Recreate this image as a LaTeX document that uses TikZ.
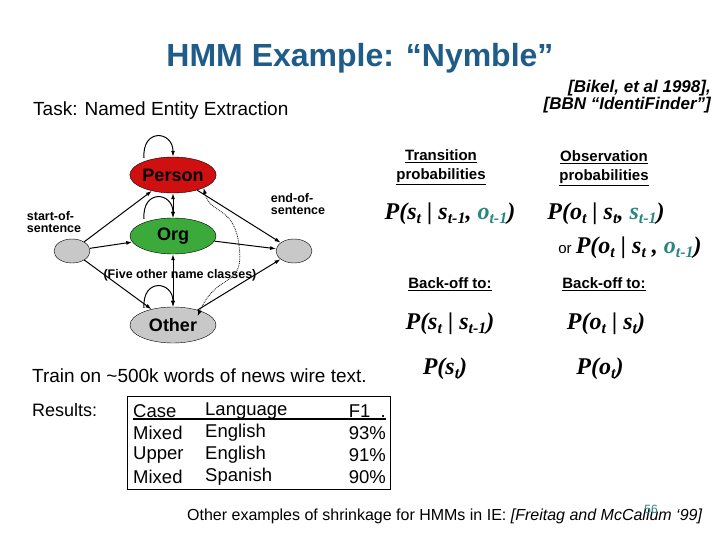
\documentclass[tikz,border=0pt]{standalone}
\usepackage{fontspec}
\setmainfont{Liberation Sans}
\newfontfamily\serifb{Liberation Serif}
\usetikzlibrary{shapes.geometric,arrows.meta}
\definecolor{titleblue}{HTML}{1F5C8A}
\definecolor{tealc}{HTML}{2A8585}
\definecolor{pred}{HTML}{D01010}
\definecolor{ogreen}{HTML}{3BAA3B}
\definecolor{sgray}{HTML}{C8C8C8}
\newcommand{\fs}[1]{\fontsize{#1}{#1}\selectfont}
\newcommand{\tl}[1]{\textcolor{tealc}{#1}}
\newcommand{\sbx}[1]{\raisebox{-4pt}{\fs{16}#1}}
\begin{document}
\begin{tikzpicture}[x=1pt,y=-1pt,
  st/.style={ellipse,draw=black,thin,minimum width=86pt,minimum height=36pt,inner sep=0pt,font=\fs{18}\bfseries},
  sm/.style={ellipse,draw=black,thin,fill=sgray,minimum width=36pt,minimum height=24pt,inner sep=0pt},
  arr/.style={-{Latex[length=6pt,width=4pt]},line width=1pt},
  lbl/.style={font=\fs{12.5}\bfseries,align=left,inner sep=0pt},
  frm/.style={font=\serifb\fs{24}\bfseries\itshape,inner sep=0pt},
  hd/.style={font={\fontsize{15}{19}\selectfont\bfseries},align=center,inner sep=0pt}]
\useasboundingbox (0,0) rectangle (720,540);
\fill[white] (0,0) rectangle (720,540);
\node[font=\fs{32}\bfseries,text=titleblue] (title) at (360,58) {HMM Example: “Nymble”};
\node[font=\fs{17}\bfseries\itshape,align=right,anchor=east,inner sep=0pt] (cite) at (711,97) {[Bikel, et al 1998],\\\relax [BBN “IdentiFinder”]};
\node[font=\fs{19},anchor=west,inner sep=0pt] (task) at (33,111) {Task: Named Entity Extraction};
% graph
\node[st,fill=pred] (per) at (173,175) {Person};
\node[st,fill=ogreen] (org) at (173,236) {Org};
\node[st,fill=sgray] (oth) at (173,325) {Other};
\node[sm] (s) at (72,251) {};
\node[sm] (e) at (294,251) {};
\node[lbl] (sl) at (54,222) {start-of-\\sentence};
\node[lbl] (el) at (298,204) {end-of-\\sentence};
\node[font=\fs{12.5}\bfseries,inner sep=0pt] (five) at (180,275) {(Five other name classes)};
\draw[arr] (s) -- (per);
\draw[arr] (s) -- (org);
\draw[arr] (s) -- (oth);
\draw[arr] (per) -- (e);
\draw[arr] (org) -- (e);
\draw[arr] (oth) -- (e);
\draw[{Latex[length=6pt,width=4pt]}-{Latex[length=6pt,width=4pt]},line width=1pt] (per) -- (org);
\draw[{Latex[length=6pt,width=4pt]}-{Latex[length=6pt,width=4pt]},line width=1pt] (org) -- (oth);
\foreach \n in {per,org,oth}{
  \draw[arr] (\n.north) ++(-29,1) coordinate (a\n) .. controls +(-2,-30) and +(0,-26) .. (\n.north);
}
\draw[{Latex[length=6pt,width=4pt]}-{Latex[length=6pt,width=4pt]},densely dotted,line width=0.8pt] (oth.north east) ++(-6,4) coordinate (d1) .. controls (218,270) and (245,290) .. (239,245) .. controls (234,205) and (210,215) .. (per.south east) ;
% right side
\node[hd] (th) at (441,167) {\underline{Transition}\\\underline{probabilities}};
\node[hd] (oh) at (604,168) {\underline{Observation}\\\underline{probabilities}};
\node[frm] (f1) at (450,214) {P(s\sbx{t} | s\sbx{t-1}, \tl{o\sbx{t-1}})};
\node[frm] (f2) at (606,214) {P(o\sbx{t} | s\sbx{t}, \tl{s\sbx{t-1}})};
\node[frm] (f3) at (630,248) {{\fontspec{Liberation Sans}\fs{15}\upshape\mdseries or }P(o\sbx{t} | s\sbx{t} , \tl{o\sbx{t-1}})};
\node[hd] (b1) at (450,284) {\underline{Back-off to:}};
\node[hd] (b2) at (604,284) {\underline{Back-off to:}};
\node[frm] (f4) at (450,324) {P(s\sbx{t} | s\sbx{t-1})};
\node[frm] (f5) at (606,324) {P(o\sbx{t} | s\sbx{t})};
\node[frm] (f6) at (445,369) {P(s\sbx{t})};
\node[frm] (f7) at (600,369) {P(o\sbx{t})};
% bottom left
\node[font=\fs{19},anchor=west,inner sep=0pt] (train) at (32,376) {Train on \textasciitilde 500k words of news wire text.};
\node[font=\fs{18},anchor=west,inner sep=0pt] (res) at (32,410) {Results:};
\draw[line width=0.8pt] (127,396) rectangle (390,489);
\begin{scope}[every node/.style={font=\fs{18.5},inner sep=0pt}]
\node[anchor=west] (c0) at (133,411) {Case};
\node[anchor=west] (l0) at (205,411) {Language};
\node[anchor=east] (p0) at (386,411) {F1 \ .};
\node[anchor=west] (c1) at (133,433) {Mixed};
\node[anchor=west] (l1) at (205,433) {English};
\node[anchor=east] (p1) at (386,433) {93\%};
\node[anchor=west] (c2) at (133,455) {Upper};
\node[anchor=west] (l2) at (205,455) {English};
\node[anchor=east] (p2) at (386,455) {91\%};
\node[anchor=west] (c3) at (133,477) {Mixed};
\node[anchor=west] (l3) at (205,477) {Spanish};
\node[anchor=east] (p3) at (386,477) {90\%};
\end{scope}
\draw[line width=1.2pt] (133,419) -- (386,419);
\node[font=\fs{16},anchor=west,inner sep=0pt] (other) at (187,516) {Other examples of shrinkage for HMMs in IE: \textit{[Freitag and McCallum ‘99]}};
\node[font=\fs{12},text=tealc,inner sep=0pt] (pg) at (651,509) {56};
\end{tikzpicture}
\end{document}
